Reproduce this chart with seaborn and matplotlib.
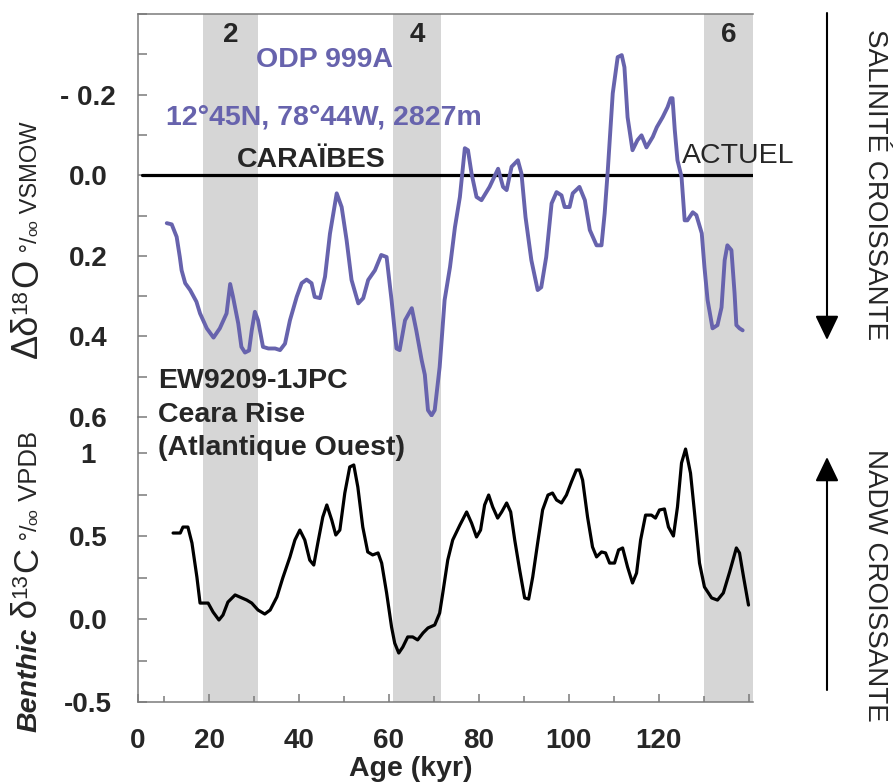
import matplotlib
matplotlib.use("Agg")
import matplotlib.pyplot as plt
import seaborn as sns
from matplotlib.patches import FancyArrowPatch, ArrowStyle
from matplotlib.ticker import MultipleLocator

# ODP 999A (Caribbean) - seawater delta-18O anomaly, permil VSMOW
odp_age = [10.6, 11.7, 12.8, 13.5, 13.9, 14.7, 15.8, 17.2, 18.0, 19.5, 21.0, 22.4, 23.9,
           24.7, 25.3, 26.5, 27.2, 28.0, 28.9, 29.5, 30.2, 30.9, 32.0, 33.2, 34.7, 35.8,
           36.9, 38.0, 39.5, 40.6, 41.7, 42.8, 43.5, 44.7, 45.8, 46.9, 48.4, 49.5, 50.6,
           51.7, 53.2, 54.3, 55.4, 56.9, 58.3, 59.5, 60.6, 61.7, 62.4, 63.6, 65.1, 66.1,
           67.3, 68.0, 68.7, 69.5, 70.2, 71.3, 72.4, 73.6, 74.7, 75.8, 76.9, 77.6, 78.4,
           79.5, 80.6, 82.4, 84.3, 85.4, 86.2, 87.3, 88.7, 89.5, 90.4, 91.7, 93.1, 93.9,
           95.0, 96.2, 97.3, 98.4, 99.1, 100.2, 100.9, 102.4, 103.6, 104.7, 106.2, 107.3,
           108.0, 108.7, 109.8, 110.9, 111.8, 112.4, 113.1, 114.2, 115.3, 116.2, 117.3,
           118.7, 119.6, 120.9, 122.0, 122.7, 123.1, 123.6, 124.2, 125.1, 125.8, 126.4,
           127.6, 128.4, 129.6, 130.2, 130.9, 132.0, 133.1, 134.0, 134.7, 135.3, 136.2,
           136.9, 137.3, 138.0, 138.7]
odp_d18o = [0.119, 0.122, 0.153, 0.203, 0.236, 0.268, 0.285, 0.314, 0.343, 0.380, 0.403,
            0.380, 0.343, 0.270, 0.300, 0.368, 0.426, 0.440, 0.435, 0.385, 0.339, 0.360,
            0.426, 0.430, 0.430, 0.434, 0.418, 0.360, 0.302, 0.268, 0.259, 0.268, 0.302,
            0.305, 0.252, 0.145, 0.045, 0.079, 0.161, 0.260, 0.318, 0.305, 0.260, 0.236,
            0.198, 0.203, 0.310, 0.430, 0.434, 0.360, 0.330, 0.385, 0.459, 0.495, 0.583,
            0.596, 0.583, 0.476, 0.310, 0.228, 0.129, 0.054, -0.067, -0.062, -0.004, 0.054,
            0.062, 0.029, -0.016, 0.029, 0.037, -0.021, -0.037, -0.004, 0.104, 0.211, 0.285,
            0.278, 0.203, 0.070, 0.042, 0.050, 0.079, 0.079, 0.045, 0.029, 0.062, 0.136,
            0.174, 0.174, 0.095, -0.012, -0.203, -0.293, -0.298, -0.268, -0.144, -0.062,
            -0.087, -0.099, -0.069, -0.095, -0.119, -0.144, -0.169, -0.191, -0.191, -0.112,
            -0.037, 0.004, 0.112, 0.112, 0.092, 0.099, 0.144, 0.228, 0.310, 0.380, 0.372,
            0.328, 0.211, 0.174, 0.186, 0.293, 0.372, 0.380, 0.385]

# EW9209-1JPC (Ceara Rise) - benthic delta-13C, permil VPDB
ew_age = [12.0, 13.6, 14.2, 15.3, 16.2, 17.3, 18.0, 19.8, 20.9, 22.2, 23.1, 24.2, 25.8,
          27.3, 28.4, 29.5, 30.9, 32.4, 33.6, 35.1, 36.4, 38.0, 39.1, 40.2, 41.3, 42.4,
          43.3, 44.2, 45.3, 46.2, 47.3, 48.2, 49.1, 50.2, 51.3, 52.2, 53.1, 54.2, 55.3,
          56.4, 57.6, 58.4, 59.5, 60.6, 61.3, 62.2, 63.1, 64.2, 65.3, 66.4, 67.6, 68.7,
          70.2, 71.3, 72.0, 73.1, 74.2, 75.8, 77.3, 78.4, 79.5, 80.4, 81.3, 82.2, 83.1,
          84.2, 85.1, 86.2, 87.1, 88.0, 89.1, 90.2, 91.1, 92.0, 93.1, 94.2, 95.4, 96.4,
          97.3, 98.4, 99.5, 100.6, 101.7, 102.4, 103.1, 104.2, 105.3, 106.2, 107.3, 108.2,
          109.1, 110.2, 111.1, 112.0, 113.1, 114.2, 115.1, 116.0, 117.1, 118.4, 119.3,
          120.2, 121.3, 122.2, 123.3, 124.2, 125.1, 126.0, 127.1, 128.0, 129.1, 130.2,
          131.8, 133.1, 134.4, 135.8, 137.3, 138.0, 138.9, 140.0]
ew_d13c = [0.518, 0.518, 0.554, 0.554, 0.458, 0.253, 0.096, 0.096, 0.042, -0.006, 0.024,
           0.102, 0.145, 0.127, 0.114, 0.096, 0.054, 0.030, 0.054, 0.133, 0.247, 0.374,
           0.476, 0.536, 0.476, 0.355, 0.325, 0.458, 0.614, 0.687, 0.596, 0.506, 0.536,
           0.759, 0.916, 0.928, 0.795, 0.554, 0.404, 0.386, 0.398, 0.337, 0.157, -0.048,
           -0.145, -0.205, -0.169, -0.108, -0.108, -0.126, -0.084, -0.054, -0.036, 0.036,
           0.157, 0.355, 0.476, 0.566, 0.645, 0.578, 0.494, 0.536, 0.687, 0.747, 0.675,
           0.608, 0.645, 0.699, 0.645, 0.476, 0.295, 0.127, 0.120, 0.253, 0.458, 0.657,
           0.747, 0.759, 0.717, 0.699, 0.747, 0.825, 0.898, 0.898, 0.837, 0.614, 0.434,
           0.374, 0.404, 0.398, 0.337, 0.337, 0.416, 0.428, 0.313, 0.217, 0.277, 0.476,
           0.626, 0.626, 0.608, 0.657, 0.663, 0.554, 0.500, 0.675, 0.940, 1.024, 0.879,
           0.639, 0.337, 0.193, 0.127, 0.114, 0.157, 0.283, 0.428, 0.398, 0.253, 0.084]

# Glacial marine isotope stages
mis_labels = ["2", "4", "6"]
mis_start = [18.7, 60.9, 130.2]
mis_end = [30.9, 71.7, 141.0]

top_ticks = [-0.2, 0.0, 0.2, 0.4, 0.6]
top_tick_labels = ["- 0.2", "0.0", "0.2", "0.4", "0.6"]
bot_ticks = [-0.5, 0.0, 0.5, 1.0]
bot_tick_labels = ["-0.5", "0.0", "0.5", "1"]
age_ticks = [20, 40, 60, 80, 100, 120, 140]
age_tick_labels = ["20", "40", "60", "80", "100", "120", ""]

PURPLE = "#6763ad"
BAND = "#d6d6d6"
SPINE = "#7a7a7a"
W, H = 895, 783

sns.set_theme(style="white")
plt.rcParams["font.family"] = ["Liberation Sans", "DejaVu Sans"]

fig = plt.figure(figsize=(W / 100, H / 100), dpi=100)
fig.patch.set_facecolor("white")


def fig_box(x0, y0, x1, y1):
    return [x0 / W, 1 - y1 / H, (x1 - x0) / W, (y1 - y0) / H]


ax_bot = fig.add_axes(fig_box(138, 417, 753, 702))
ax_top = fig.add_axes(fig_box(138, 14, 753, 417))
ax_top.set_zorder(2)
XMIN, XMAX = 4.2, 141.0

for ax in (ax_top, ax_bot):
    ax.set_facecolor("none")
    ax.set_xlim(XMIN, XMAX)
    for s0, s1 in zip(mis_start, mis_end):
        ax.axvspan(s0, s1, color=BAND, lw=0, zorder=0)
    ax.spines["right"].set_visible(False)
    for sp in ax.spines.values():
        sp.set_color(SPINE)
        sp.set_linewidth(1.1)

# --- upper panel: ODP 999A ---
ax_top.set_ylim(0.6, -0.4)
ax_top.spines["bottom"].set_visible(False)
ax_top.axhline(0, xmin=0.007, xmax=1.0, color="black", lw=2.3, zorder=2)
sns.lineplot(x=odp_age, y=odp_d18o, ax=ax_top, color=PURPLE, lw=2.8,
             sort=False, estimator=None, zorder=3,
             solid_joinstyle="round", solid_capstyle="round")
ax_top.set_xticks([])
ax_top.set_yticks(top_ticks, top_tick_labels, fontweight="bold", ha="center")
ax_top.yaxis.set_minor_locator(MultipleLocator(0.1))
ax_top.tick_params(axis="y", which="both", direction="in", left=True, length=6.5,
                   width=1.1, color=SPINE, pad=36, labelsize=20)
ax_top.set_xlabel("")
ax_top.set_ylabel("")

for lab, s0, s1 in zip(mis_labels, mis_start, mis_end):
    ax_top.text((s0 + s1) / 2, -0.347, lab, ha="center", va="center",
                fontsize=20, fontweight="bold")

ax_top.text(45.6, -0.285, "ODP 999A", color=PURPLE, ha="center", va="center",
            fontsize=20.5, fontweight="bold")
ax_top.text(10.4, -0.144, "12°45N, 78°44W, 2827m", color=PURPLE, ha="left",
            va="center", fontsize=20.5, fontweight="bold")
ax_top.text(26.2, -0.037, "CARAÏBES", ha="left", va="center", fontsize=20.5,
            fontweight="bold")
ax_top.text(125.1, -0.048, "ACTUEL", ha="left", va="center", fontsize=20.5)
for txt, yb in zip(["EW9209-1JPC", "Ceara Rise", "(Atlantique Ouest)"],
                   [0.5285, 0.6129, 0.6948]):
    ax_top.text(8.67, yb, txt, ha="left", va="baseline", fontsize=20.5,
                fontweight="bold", clip_on=False, zorder=5)

# --- lower panel: EW9209-1JPC ---
ax_bot.set_ylim(-0.5, 1.217)
ax_bot.spines["top"].set_visible(False)
sns.lineplot(x=ew_age, y=ew_d13c, ax=ax_bot, color="black", lw=2.3,
             sort=False, estimator=None, zorder=3,
             solid_joinstyle="round", solid_capstyle="round")
ax_bot.set_yticks(bot_ticks, bot_tick_labels, fontweight="bold", ha="center")
ax_bot.yaxis.set_minor_locator(MultipleLocator(0.25))
ax_bot.tick_params(axis="y", which="both", direction="in", left=True, length=6.5,
                   width=1.1, color=SPINE, pad=36, labelsize=20)
ax_bot.set_xticks([XMIN] + age_ticks, ["0"] + age_tick_labels, fontweight="bold")
ax_bot.xaxis.set_minor_locator(MultipleLocator(10))
ax_bot.tick_params(axis="x", which="major", direction="in", bottom=True, length=6,
                   width=1.1, color=SPINE, pad=18.5, labelsize=20)
ax_bot.tick_params(axis="x", which="minor", direction="in", bottom=True, length=4.5,
                   width=1.1, color=SPINE)
ax_bot.set_xlabel("")
ax_bot.set_ylabel("")

fig.text(411 / W, 1 - 776 / H, "Age (kyr)", ha="center", va="baseline",
         fontsize=20.5, fontweight="bold")


# --- rotated y-axis titles built from pieces of differing size ---
def stacked_label(pieces, x_px, y_px):
    first = pieces[0]
    prev = fig.text(x_px / W, 1 - y_px / H, first[0], rotation=90,
                    rotation_mode="anchor", ha="left", va="baseline",
                    fontsize=first[1], fontweight=first[2], fontstyle=first[3])
    for text, size, weight, style, shift, gap in pieces[1:]:
        prev = ax_bot.annotate(text, xy=(x_px / W, 1.0),
                               xycoords=("figure fraction", prev),
                               xytext=(-shift, gap), textcoords="offset points",
                               rotation=90, rotation_mode="anchor", ha="left",
                               va="baseline", fontsize=size, fontweight=weight,
                               fontstyle=style, annotation_clip=False)


stacked_label([("Δδ", 26, "normal", "normal", 0, 0),
               ("18", 16, "normal", "normal", 8, 0),
               ("O", 26, "normal", "normal", 0, 1),
               (" °/", 17, "normal", "normal", 0, 0),
               ("oo", 11, "normal", "normal", 0, 0),
               (" VSMOW", 17, "normal", "normal", 0, 0)], 37, 358)

stacked_label([("Benthic", 20.5, "bold", "italic", 0, 0),
               (" δ", 25, "normal", "normal", 0, 0),
               ("13", 16, "normal", "normal", 8, 0),
               ("C", 25, "normal", "normal", 0, 1),
               (" °/", 17, "normal", "normal", 0, 0),
               ("oo", 11, "normal", "normal", 0, 0),
               (" VPDB", 18.5, "normal", "normal", 0, 0)], 37, 732)

# --- right-hand arrows and captions ---
style = ArrowStyle("-|>", head_length=0.75, head_width=0.36)
for y0, y1 in [(13, 340), (690, 457)]:
    fig.add_artist(FancyArrowPatch((827 / W, 1 - y0 / H), (827 / W, 1 - y1 / H),
                                   transform=fig.transFigure, arrowstyle=style,
                                   mutation_scale=20, lw=1.5, color="black",
                                   shrinkA=0, shrinkB=0))
fig.text(875 / W, 1 - 185 / H, "SALINITÉ CROISSANTE", rotation=-90, ha="center",
         va="center", fontsize=20)
fig.text(875 / W, 1 - 585 / H, "NADW CROISSANTE", rotation=-90, ha="center",
         va="center", fontsize=20)

fig.savefig("out.png", dpi=100, facecolor="white")
